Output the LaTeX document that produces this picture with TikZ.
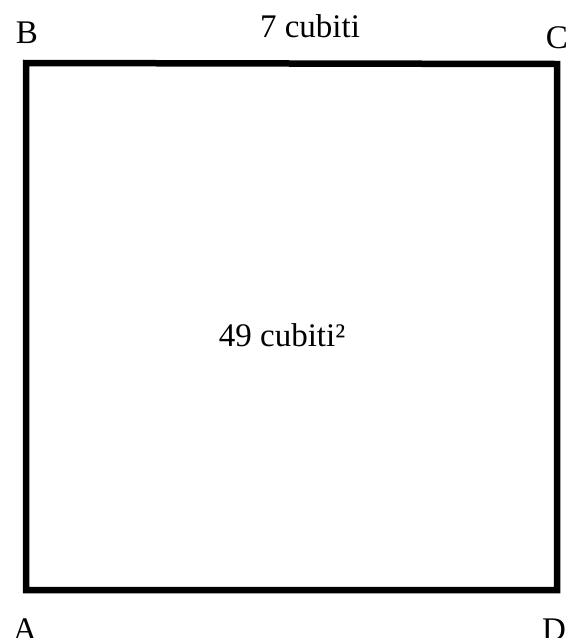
\documentclass[tikz,border=0pt]{standalone}
\usepackage{fontspec}
\setmainfont{Liberation Serif}
\begin{document}
\begin{tikzpicture}[x=1pt,y=-1pt,
  lbl/.style={anchor=base,inner sep=0pt,font=\fontsize{33}{40}\selectfont},
  side/.style={line width=6.5pt,line join=miter}]
\useasboundingbox (0,0) rectangle (566,638);
\coordinate (cB) at (26,63);
\coordinate (cC) at (557,64);
\coordinate (cD) at (557,590);
\coordinate (cA) at (26,590);
\draw[side] (cB) -- (cC) -- (cD) -- (cA) -- cycle;
\node[lbl] (B) at (27,43) {B};
\node[lbl] (C) at (557,48) {C};
\node[lbl] (A) at (25,640) {A};
\node[lbl] (D) at (554,640) {D};
\node[lbl] (top) at (310,37) {7 cubiti};
\node[lbl] (area) at (282,346) {49 cubiti²};
\end{tikzpicture}
\end{document}
